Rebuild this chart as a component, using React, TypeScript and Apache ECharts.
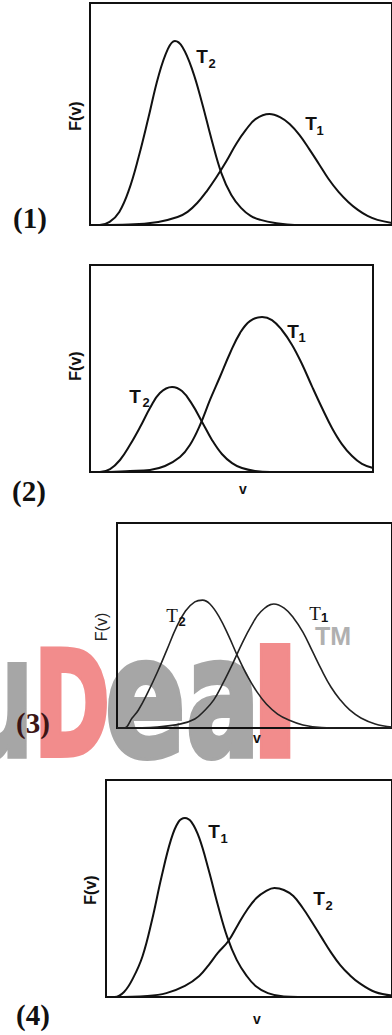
import React, { useEffect, useRef } from "react";
import * as echarts from "echarts";

// v runs 0-100 across each frame, F(v) 0-100 up each frame
// Panel 1
const p1T2: number[][] = [[0, 0], [3.2, 0], [6.5, 1.4], [9.7, 5.9], [12.9, 15.8], [16.1, 30.6], [19.4, 48.6], [22.6, 66.7], [25.8, 79.3], [28.1, 82.9], [30.6, 80.2], [33.9, 69.8], [37.1, 55.0], [40.3, 38.3], [43.5, 23.4], [46.8, 13.5], [50.0, 7.7], [53.2, 4.1], [56.5, 2.3], [61.3, 0.9], [67.7, 0], [100, 0]];
const p1T1: number[][] = [[0, 0], [3.2, 0], [12.9, 0.2], [22.6, 1.4], [29.0, 3.6], [32.3, 5.9], [35.5, 9.9], [38.7, 15.3], [41.9, 21.6], [45.2, 28.8], [48.4, 36.5], [51.6, 42.8], [54.8, 47.7], [59.4, 50.0], [62.9, 48.6], [66.1, 45.5], [69.4, 40.5], [72.6, 34.2], [75.8, 27.5], [79.0, 20.7], [82.3, 14.9], [85.5, 10.4], [88.7, 6.8], [91.9, 4.1], [95.2, 2.3], [100, 0.9]];
// Panel 2
const p2T2: number[][] = [[0, 0], [3.5, 0], [7.1, 1.4], [10.6, 5.8], [14.1, 13.0], [17.7, 21.7], [21.2, 30.9], [24.7, 38.2], [29.0, 41.1], [32.5, 39.1], [36.0, 32.9], [39.6, 24.2], [43.1, 15.5], [46.6, 8.7], [50.2, 4.3], [53.7, 1.9], [58.3, 0.5], [63.6, 0], [100, 0]];
const p2T1: number[][] = [[0, 0], [3.5, 0], [14.1, 0.5], [21.2, 1.0], [26.5, 2.9], [31.8, 7.2], [35.3, 13.0], [38.9, 22.7], [42.4, 34.8], [45.9, 45.9], [49.5, 57.5], [53.0, 67.1], [56.5, 72.9], [60.8, 74.9], [64.3, 73.4], [67.8, 68.6], [71.4, 61.4], [74.9, 52.2], [78.4, 41.5], [82.0, 30.9], [85.5, 21.3], [89.0, 13.5], [92.6, 7.7], [96.1, 3.9], [100, 1.9]];
// Panel 3
const p3T2: number[][] = [[0, 0], [2.7, 0], [5.5, 4.9], [7.8, 8.8], [11.3, 17.6], [14.7, 27.3], [18.1, 38.0], [21.5, 48.8], [24.9, 57.1], [28.3, 61.5], [31.1, 62.4], [33.8, 60.5], [37.2, 54.1], [40.6, 44.9], [44.0, 34.6], [47.4, 25.4], [50.9, 17.6], [54.3, 11.7], [58.4, 6.8], [62.5, 3.9], [67.6, 1.5], [74.4, 0.2], [82.9, 0], [100, 0]];
const p3T1: number[][] = [[0, 0], [2.7, 0], [14.7, 0.5], [23.2, 2.0], [28.3, 4.4], [31.7, 8.3], [35.2, 13.7], [38.6, 22.0], [42.0, 31.2], [45.4, 41.0], [48.8, 49.8], [52.2, 56.6], [57.0, 60.5], [60.8, 58.5], [64.2, 53.7], [67.6, 46.8], [71.0, 37.6], [74.4, 28.3], [77.8, 20.0], [81.2, 13.7], [84.6, 8.8], [88.7, 4.9], [93.9, 2.0], [100, 0.5]];
// Panel 4
const p4T1: number[][] = [[0, 0], [3.0, 0], [6.3, 2.3], [9.5, 8.8], [12.8, 18.9], [16.1, 35.5], [19.4, 55.3], [22.7, 72.4], [25.3, 80.6], [27.6, 82.5], [29.9, 80.6], [32.6, 73.3], [35.9, 58.5], [39.1, 42.4], [42.4, 27.6], [45.7, 17.1], [49.0, 10.1], [52.3, 5.1], [56.6, 1.8], [62.2, 0.2], [67.1, 0], [100, 0]];
const p4T2: number[][] = [[0, 0], [3.0, 0], [14.5, 0.5], [21.1, 1.8], [27.6, 5.1], [32.6, 9.7], [35.9, 14.7], [39.1, 20.3], [42.8, 25.8], [46.1, 33.2], [49.3, 40.1], [52.6, 45.6], [55.9, 48.8], [58.9, 50.2], [62.2, 49.3], [65.5, 46.5], [68.8, 41.0], [72.0, 34.6], [75.3, 27.6], [78.6, 20.7], [81.9, 14.7], [85.2, 10.1], [88.5, 6.5], [94.1, 2.3], [100, 0.7]];

const panelLabels = ["(1)", "(2)", "(3)", "(4)"];
const yName = "F(v)";
const xName = "v";
const watermarkLetters = ["u", "D", "e", "a", "l"];
const watermarkMark = "TM";

export default function App() {
  const ref = useRef<HTMLDivElement>(null);
  useEffect(() => {
    if (!ref.current) return;
    const chart = echarts.init(ref.current, null, { renderer: "svg" });

    const grids = [
      { left: 90, top: 3, width: 310, height: 222 },
      { left: 90, top: 265, width: 283, height: 207 },
      { left: 117, top: 523, width: 293, height: 205 },
      { left: 106, top: 780, width: 304, height: 217 },
    ].map((g) => ({ ...g, show: true, borderColor: "#111", borderWidth: 2, backgroundColor: "transparent", z: 1 }));

    const axisBase = { type: "value" as const, min: 0, max: 100, axisLine: { show: false }, axisTick: { show: false }, axisLabel: { show: false }, splitLine: { show: false } };
    const xAxis = grids.map((_, i) => ({ ...axisBase, gridIndex: i }));
    const yAxis = grids.map((_, i) => ({ ...axisBase, gridIndex: i }));

    const curves = [
      [p1T2, 0], [p1T1, 0], [p2T2, 1], [p2T1, 1], [p3T2, 2], [p3T1, 2], [p4T1, 3], [p4T2, 3],
    ] as [number[][], number][];
    const series = curves.map(([d, gi]) => ({
      type: "line" as const,
      xAxisIndex: gi,
      yAxisIndex: gi,
      data: d,
      smooth: 0.4,
      symbol: "none",
      z: 3,
      lineStyle: { color: gi === 2 ? "#222" : "#111", width: gi === 2 ? 1.6 : 2 },
    }));

    const sans = "'Liberation Sans', Arial, sans-serif";
    const serif = "'Liberation Serif', 'Times New Roman', serif";
    const t = (text: string, x: number, y: number, fontSize: number, extra: any = {}) => ({
      type: "text",
      x,
      y,
      z: 10,
      ...extra,
      style: { text, fontSize, fontFamily: sans, fontWeight: "bold", fill: "#111", align: "center", verticalAlign: "middle", ...(extra.style || {}) },
    });

    const red = "#f28c8c";
    const gray = "#a6a6a6";
    // baseline of the watermark sits near y = 757
    const wm = (ch: string, x: number, fs: number, sx: number, color: string) => ({
      type: "text",
      x,
      y: 756.5 - 0.35 * fs,
      scaleX: sx,
      z: -5,
      style: { text: ch, fontSize: fs, fontFamily: "'DejaVu Sans', sans-serif", fontWeight: "bold", fill: color, stroke: color, lineWidth: 6, align: "left", verticalAlign: "middle" },
    });

    const graphic: any[] = [
      wm(watermarkLetters[0], -32, 165, 0.55, gray),
      wm(watermarkLetters[1], 34, 145, 0.63, red),
      wm(watermarkLetters[2], 105, 165, 0.72, gray),
      wm(watermarkLetters[3], 186, 165, 0.66, gray),
      wm(watermarkLetters[4], 251, 145, 0.97, red),
      t(watermarkMark, 333, 636, 25, { z: -4, style: { fill: "#b0b0b0", fontFamily: sans } }),
      // panel labels
      t(panelLabels[0], 30, 218, 29, { style: { fontFamily: serif } }),
      t(panelLabels[1], 29, 491, 29, { style: { fontFamily: serif } }),
      t(panelLabels[2], 33, 723, 29, { style: { fontFamily: serif, fill: "#3b1515" } }),
      t(panelLabels[3], 33, 1015, 29, { style: { fontFamily: serif } }),
      // F(v)
      t(yName, 75, 116, 16, { rotation: Math.PI / 2 }),
      t(yName, 75, 366, 16, { rotation: Math.PI / 2 }),
      t(yName, 101, 627, 16, { rotation: Math.PI / 2, style: { fontWeight: "normal", fill: "#222" } }),
      t(yName, 90, 890, 16, { rotation: Math.PI / 2 }),
      // v
      t(xName, 243, 489, 14),
      t(xName, 257, 738, 14),
      t(xName, 257, 1019, 14),
      // T labels
      t("T", 202, 56, 19), t("2", 212, 63, 13),
      t("T", 311, 123.5, 19), t("1", 320, 130, 13),
      t("T", 293, 331.5, 19), t("1", 302, 337, 13),
      t("T", 135, 396, 19), t("2", 146, 402, 13),
      t("T", 172, 615, 19, { style: { fontFamily: serif, fontWeight: "normal" } }), t("2", 182, 621, 13),
      t("T", 315, 613, 19, { style: { fontFamily: serif, fontWeight: "normal" } }), t("1", 324.5, 617, 13),
      t("T", 214, 831.5, 19), t("1", 224, 838, 13),
      t("T", 319, 898.5, 19), t("2", 329, 905, 13),
    ];

    chart.setOption({
      animation: false,
      backgroundColor: "#fff",
      grid: grids,
      xAxis,
      yAxis,
      series,
      graphic,
    });
    return () => chart.dispose();
  }, []);
  return <div ref={ref} style={{ position: "absolute", left: 0, top: 0, width: 392, height: 1035, background: "#fff" }} />;
}
